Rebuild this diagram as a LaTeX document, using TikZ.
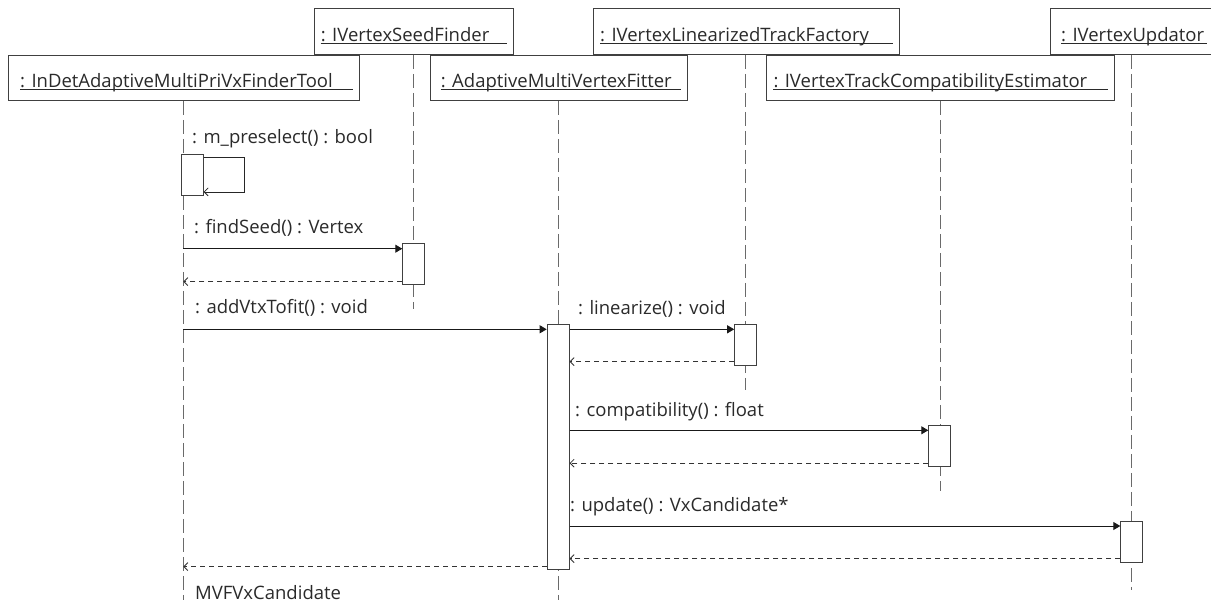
\documentclass[tikz,border=0pt]{standalone}
\usepackage{fontspec}
\setmainfont{Open Sans}
\usetikzlibrary{arrows.meta}
\definecolor{boxc}{HTML}{404040}
\definecolor{lifec}{HTML}{6A6A6A}
\definecolor{txtc}{HTML}{2A2A2A}
\begin{document}
\begin{tikzpicture}[x=1pt,y=-1pt,
  hbox/.style={draw=boxc, fill=white, line width=0.9pt, inner sep=0pt, anchor=north west},
  htxt/.style={anchor=base west, inner sep=0pt, font=\fontsize{18.5}{22}\selectfont, text=txtc},
  uline/.style={draw=txtc, line width=0.8pt},
  life/.style={draw=lifec, line width=0.9pt, dash pattern=on 14pt off 5pt},
  act/.style={draw=boxc, fill=white, line width=0.9pt, inner sep=0pt, anchor=north west, minimum width=22pt},
  call/.style={draw=black!90, line width=0.9pt, -{Triangle[length=7pt,width=8pt]}},
  ret/.style={draw=black!80, line width=0.8pt, dash pattern=on 5pt off 4pt, -{Straight Barb[length=4pt,width=8pt]}},
  selfc/.style={draw=black!85, line width=0.8pt, -{Straight Barb[length=4pt,width=8pt]}},
  mlbl/.style={anchor=base west, inner sep=0pt, font=\fontsize{18.5}{22}\selectfont, text=txtc}]
\useasboundingbox (0,0) rectangle (1211,603);

% ---- header boxes, upper row
\node[hbox, minimum width=199pt, minimum height=46pt] (seed) at (314,8) {};
\node[hbox, minimum width=306pt, minimum height=46pt] (ltf) at (593,8) {};
\node[hbox, minimum width=160.5pt, minimum height=46pt] (upd) at (1050,8) {};
% ---- header boxes, lower row
\node[hbox, minimum width=351pt, minimum height=45pt] (tool) at (8,55) {};
\node[hbox, minimum width=257pt, minimum height=45pt] (fit) at (430,55) {};
\node[hbox, minimum width=348pt, minimum height=45pt] (cmp) at (766,55) {};

% ---- header texts with underlines
\node[htxt] (seedT) at (320.7,41.5) {: IVertexSeedFinder};
\node[htxt] (ltfT) at (600,41.5) {: IVertexLinearizedTrackFactory};
\node[htxt] (updT) at (1061,41.5) {: IVertexUpdator};
\node[htxt] (toolT) at (20,87) {: InDetAdaptiveMultiPriVxFinderTool};
\node[htxt] (fitT) at (440.7,87) {: AdaptiveMultiVertexFitter};
\node[htxt] (cmpT) at (773.3,87) {: IVertexTrackCompatibilityEstimator};

\draw[uline] ([yshift=-2.2pt]seedT.base west) -- ([xshift=-7pt,yshift=-2.2pt]seedT.base west -| seed.east);
\draw[uline] ([yshift=-2.2pt]ltfT.base west) -- ([xshift=-7pt,yshift=-2.2pt]ltfT.base west -| ltf.east);
\draw[uline] ([yshift=-2.2pt]updT.base west) -- ([xshift=-4pt,yshift=-2.2pt]updT.base west -| upd.east);
\draw[uline] ([yshift=-2.2pt]toolT.base west) -- ([xshift=-7pt,yshift=-2.2pt]toolT.base west -| tool.east);
\draw[uline] ([yshift=-2.2pt]fitT.base west) -- ([xshift=-7pt,yshift=-2.2pt]fitT.base west -| fit.east);
\draw[uline] ([yshift=-2.2pt]cmpT.base west) -- ([xshift=-7pt,yshift=-2.2pt]cmpT.base west -| cmp.east);

% ---- lifeline ends
\coordinate (toolE) at (183.3,600);
\coordinate (seedE) at (413.3,309);
\coordinate (fitE) at (558,600);
\coordinate (ltfE) at (745.3,390);
\coordinate (cmpE) at (940,491);
\coordinate (updE) at (1131.7,590);

\draw[life] (toolE |- tool.south) -- (toolE);
\draw[life] (seedE |- seed.south) -- (seedE);
\draw[life] (fitE |- fit.south) -- (fitE);
\draw[life] (ltfE |- ltf.south) -- (ltfE);
\draw[life] (cmpE |- cmp.south) -- (cmpE);
\draw[life] (updE |- upd.south) -- (updE);

% ---- activation boxes
\node[act, minimum height=41pt] (a1) at (180.7,154) {};
\node[act, minimum height=41pt] (a2) at (402.3,243.3) {};
\node[act, minimum height=245pt] (a3) at (546.7,324.3) {};
\node[act, minimum height=41pt] (a4) at (734.2,324.3) {};
\node[act, minimum height=41pt] (a5) at (928.3,425) {};
\node[act, minimum height=41pt] (a6) at (1120.3,520.7) {};

% ---- self call
\coordinate (s1) at ([yshift=-3.7pt]a1.north east);
\coordinate (s2) at ([yshift=4pt]a1.south east);
\draw[selfc] (s1) -- ++(40.6,0) |- (s2);
\node[mlbl] (m1) at (192,143) {: m\_preselect() : bool};

% ---- findSeed
\coordinate (c2) at ([yshift=-5.4pt]a2.north west);
\draw[call] (c2 -| toolE) -- (c2);
\coordinate (r2) at ([yshift=3.6pt]a2.south west);
\draw[ret] (r2) -- (r2 -| toolE);
\node[mlbl] (m2) at (194,233) {: findSeed() : Vertex};

% ---- addVtxTofit
\coordinate (c3) at ([yshift=-5pt]a3.north west);
\draw[call] (c3 -| toolE) -- (c3);
\node[mlbl] (m3) at (195,313) {: addVtxTofit() : void};

% ---- linearize
\coordinate (c4) at ([yshift=-5pt]a4.north west);
\draw[call] (c4 -| a3.east) -- (c4);
\coordinate (r4) at ([yshift=4.6pt]a4.south west);
\draw[ret] (r4) -- (r4 -| a3.east);
\node[mlbl] (m4) at (578,314) {: linearize() : void};

% ---- compatibility
\coordinate (c5) at ([yshift=-5.3pt]a5.north west);
\draw[call] (c5 -| a3.east) -- (c5);
\coordinate (r5) at ([yshift=3.7pt]a5.south west);
\draw[ret] (r5) -- (r5 -| a3.east);
\node[mlbl] (m5) at (575,416) {: compatibility() : float};

% ---- update
\coordinate (c6) at ([yshift=-5.3pt]a6.north west);
\draw[call] (c6 -| a3.east) -- (c6);
\coordinate (r6) at ([yshift=4pt]a6.south west);
\draw[ret] (r6) -- (r6 -| a3.east);
\node[mlbl] (m6) at (570,511) {: update() : VxCandidate*};

% ---- final return
\coordinate (r3) at ([yshift=3.6pt]a3.south west);
\draw[ret] (r3) -- (r3 -| toolE);
\node[mlbl] (m7) at (195,599) {MVFVxCandidate};
\end{tikzpicture}
\end{document}
